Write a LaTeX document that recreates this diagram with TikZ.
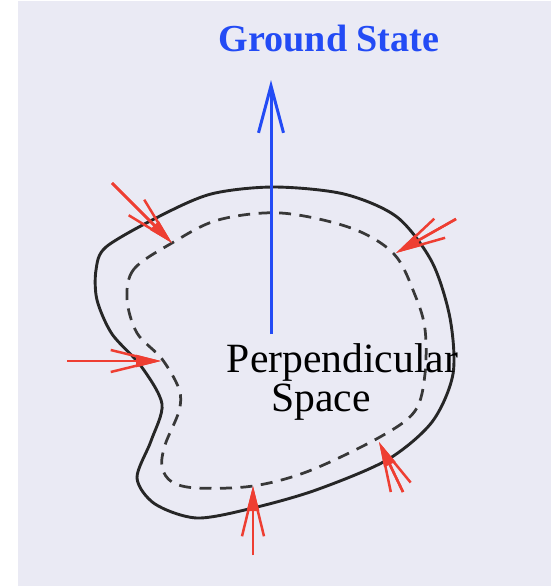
\documentclass[tikz,border=0pt]{standalone}
\usepackage{fontspec}
\setmainfont{Liberation Serif}
\newfontfamily\labelserif{Liberation Serif}
\usetikzlibrary{arrows.meta}
\definecolor{PaneLavender}{RGB}{234,234,244}
\definecolor{StateBlue}{RGB}{35,75,245}
\definecolor{PushRed}{RGB}{238,62,50}

\tikzset{
  pusharrow/.style={-{Straight Barb[length=0.9cm,width=0.44cm]}, line width=0.05cm, PushRed,
    postaction={draw, -{Triangle[length=0.5cm,width=0.24cm]}}},
  labeltext/.style={anchor=base, inner sep=0pt}
}

\begin{document}
\begin{tikzpicture}[x=0.02cm, y=-0.02cm]
        % Canvas
        \useasboundingbox (0,0) rectangle (551,586);
        \fill[PaneLavender] (18,1) rectangle (551,586);

        % Outer boundary
        \draw[line width=0.058cm, black!85] plot[smooth cycle, tension=0.5] coordinates {
          (106,247) (96,270) (97,300) (112,334) (141,366) (162,404) (151,441) (137,478)
          (155,504) (197,518) (253,508) (316,490) (387,460) (432,422) (453,374)
          (450,318) (432,262) (397,217) (344,194) (274,187) (211,194) (158,217)};

        % Inner (dashed) boundary
        \draw[line width=0.055cm, black!78, dash pattern=on 0.24cm off 0.17cm] plot[smooth cycle, tension=0.55] coordinates {
          (172,243) (134,269) (127,299) (137,333) (162,359) (179,389) (179,411)
          (165,445) (162,467) (172,482) (197,488) (253,486) (309,471) (380,437)
          (415,411) (425,374) (425,329) (415,295) (394,254) (351,228) (281,213)
          (218,220)};

        % Ground state direction
        \coordinate (gsfoot) at (271,334);
        \coordinate (gstip) at (271,80);
        \draw[-{Straight Barb[length=0.94cm,width=0.5cm]}, line width=0.06cm, StateBlue] (gsfoot) -- (gstip);

        % Red arrows pushing inward
        \coordinate (p1s) at (112,183); \coordinate (p1t) at (172,243);
        \coordinate (p2s) at (456,219); \coordinate (p2t) at (396,253);
        \coordinate (p3s) at (67,361);  \coordinate (p3t) at (161,361);
        \coordinate (p4s) at (403,492); \coordinate (p4t) at (379,442);
        \coordinate (p5s) at (253,555); \coordinate (p5t) at (253,486);
        \draw[pusharrow] (p1s) -- (p1t);
        \draw[pusharrow] (p2s) -- (p2t);
        \draw[pusharrow] (p3s) -- (p3t);
        \draw[pusharrow] (p4s) -- (p4t);
        \draw[pusharrow] (p5s) -- (p5t);

        % Labels
        \node[labeltext, font=\labelserif\bfseries\fontsize{21.7}{24}\selectfont, text=StateBlue] (gs) at (329,51.7) {Ground State};
        \node[labeltext, font=\labelserif\fontsize{23.7}{26}\selectfont] (perp) at (342.5,372.7) {Perpendicular};
        \node[labeltext, font=\labelserif\fontsize{23.7}{26}\selectfont] (space) at (321,411.7) {Space};
\end{tikzpicture}
\end{document}
